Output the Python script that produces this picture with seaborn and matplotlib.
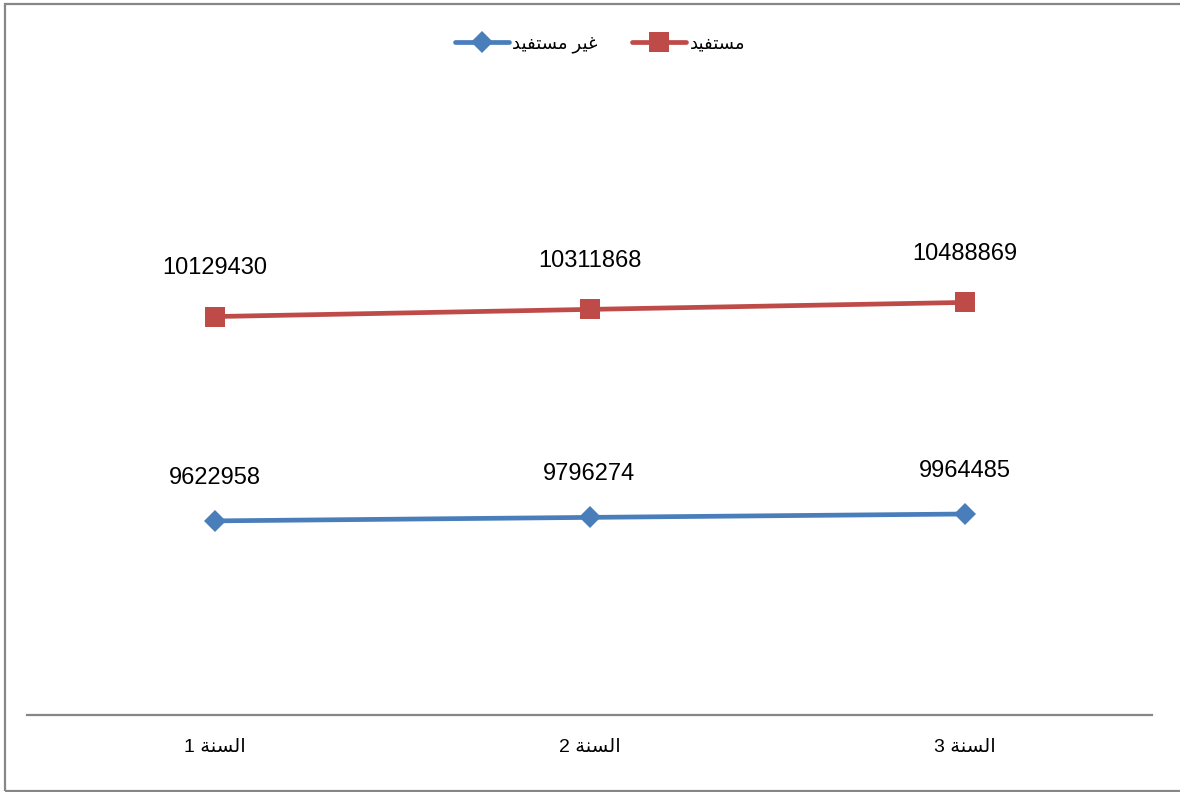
import numpy as np
import pandas as pd
from matplotlib import pyplot as plt
import seaborn as sns

# Arabic words in presentation forms, visual order (matplotlib does no shaping)
sanah = '\ufe94\ufee8\ufeb4\ufedf\ufe8d'                 # السنة
years = ['1 ' + sanah, '2 ' + sanah, '3 ' + sanah]
label_benef = '\ufeaa\ufef4\ufed4\ufe98\ufeb4\ufee3'      # مستفيد
label_not_benef = label_benef + ' ' + '\ufeae\ufef4\ufecf'  # غير مستفيد

# values
not_benef = [9622958, 9796274, 9964485]
benef = [10129430, 10311868, 10488869]

# stacked line chart: second series sits on top of the first
df = pd.DataFrame({'pos': range(len(years)),
                   'not_benef': not_benef,
                   'benef': benef})
df['stacked'] = df['not_benef'] + df['benef']

blue = '#4A7EBB'
red = '#BE4B48'

sns.set_style('white')
plt.rcParams['font.family'] = ['Liberation Sans', 'DejaVu Sans']
plt.rcParams['text.color'] = 'black'
plt.rcParams['xtick.color'] = 'black'

fig = plt.figure(figsize=(11.8, 7.92), dpi=100)
ax = fig.add_axes([27/1180, 1 - 715/792, 1125/1180, 635/792])

ax = sns.lineplot(data=df, x='pos', y='not_benef', color=blue, lw=3.4,
                  marker='D', markersize=11, markeredgewidth=0,
                  label=label_not_benef, ax=ax)
ax = sns.lineplot(data=df, x='pos', y='stacked', color=red, lw=3.4,
                  marker='s', markersize=14, markeredgewidth=0,
                  label=label_benef, ax=ax)

# data labels show the series values
for i in range(len(df)):
    ax.annotate(str(df.not_benef[i]), (df.pos[i], df.not_benef[i]),
                xytext=(0, 31), textcoords='offset points',
                ha='center', va='center', fontsize=17, color='black')
    ax.annotate(str(df.benef[i]), (df.pos[i], df.stacked[i]),
                xytext=(0, 35), textcoords='offset points',
                ha='center', va='center', fontsize=17, color='black')

ax.set_xlim(-0.5, 2.5)
ax.set_ylim(0, 31.48e6)
ax.set_xticks(df.pos, years)
ax.set_yticks([])
ax.set_xlabel('')
ax.set_ylabel('')
ax.tick_params(axis='x', length=0, pad=17, labelsize=14, labelcolor='black')
for side in ['left', 'top', 'right']:
    ax.spines[side].set_visible(False)
ax.spines['bottom'].set_color('#868686')
ax.spines['bottom'].set_linewidth(1.6)

ax.get_legend().remove()
fig.legend(loc='center', bbox_to_anchor=(0.5 + 10/1180, 1 - 44/792), ncol=2,
           frameon=False, fontsize=13, handlelength=3.0,
           columnspacing=1.9, handletextpad=0.2, labelcolor='black')

# outer chart border
fig.add_artist(plt.Rectangle((4.5/1180, 1.5/792), 1.2, 787/792,
                             transform=fig.transFigure, fill=False,
                             ec='#878787', lw=1.6))

fig.savefig('out.png', dpi=100)
